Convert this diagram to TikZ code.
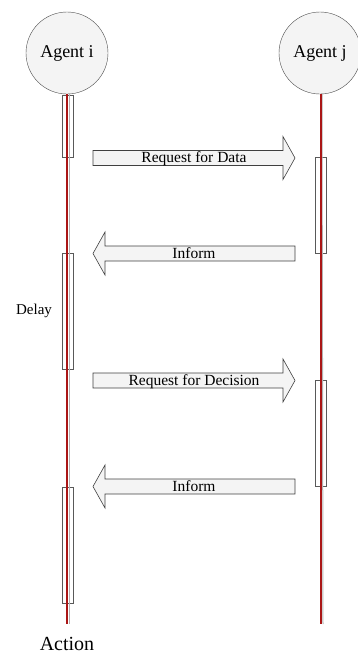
\documentclass[tikz,border=0pt]{standalone}
\usepackage{fontspec}
\setmainfont{Liberation Serif}
\usetikzlibrary{positioning}

\definecolor{lifered}{RGB}{170,22,22}
\definecolor{boxgray}{RGB}{244,244,244}

% block arrow between the lifelines, #1 = centre line of the arrow
\newcommand{\msgright}[1]{%
  \draw[message] (93,#1-7.5) -- (283,#1-7.5) -- (283,#1-21.5) -- (295,#1)
    -- (283,#1+21.5) -- (283,#1+7.5) -- (93,#1+7.5) -- cycle;}
\newcommand{\msgleft}[1]{%
  \draw[message] (295,#1-7.5) -- (105,#1-7.5) -- (105,#1-21.5) -- (93,#1)
    -- (105,#1+21.5) -- (105,#1+7.5) -- (295,#1+7.5) -- cycle;}

\begin{document}
\begin{tikzpicture}[
    x=1pt, y=-1pt,
    agent/.style={circle, draw=black!70, fill=boxgray, minimum size=82pt, inner sep=0pt,
                  font=\fontsize{18}{20}\selectfont},
    activation/.style={rectangle, draw=black!65, fill=white, minimum width=11pt, inner sep=0pt},
    lifeline/.style={draw=lifered, line width=2pt},
    shadowline/.style={draw=black!30, line width=1pt},
    message/.style={draw=black!75, fill=boxgray, line width=0.6pt},
    msglabel/.style={anchor=base, inner sep=0pt, font=\fontsize{15.5}{17}\selectfont},
    note/.style={inner sep=0pt}
]
    \useasboundingbox (0,0) rectangle (357,654);

    \node[agent] (agi) at (67,53) {Agent i};
    \node[agent] (agj) at (320,53) {Agent j};

    % activation boxes
    \node[activation, minimum height=62pt]  (acti1) at (67.5,126) {};
    \node[activation, minimum height=116pt] (acti2) at (67.5,311) {};
    \node[activation, minimum height=116pt] (acti3) at (67.5,545) {};
    \node[activation, minimum height=96pt]  (actj1) at (320.5,205) {};
    \node[activation, minimum height=106pt] (actj2) at (320.5,433) {};

    % lifelines
    \coordinate (endi) at (67,624);
    \coordinate (endj) at (321,624);
    \draw[shadowline] ([xshift=2pt]agi.south) -- ([xshift=2pt]endi);
    \draw[shadowline] ([xshift=2pt]agj.south) -- ([xshift=2pt]endj);
    \draw[lifeline] (agi.south) -- (endi);
    \draw[lifeline] ([xshift=1pt]agj.south) -- (endj);

    % messages
    \msgright{158}
    \msgleft{253.5}
    \msgright{380.5}
    \msgleft{486.5}
    \node[msglabel] (reqdata) at (194,162) {Request for Data};
    \node[msglabel] (inform1) at (194,258) {Inform};
    \node[msglabel] (reqdec) at (194,385) {Request for Decision};
    \node[msglabel] (inform2) at (194,491) {Inform};

    \node[note, font=\fontsize{15}{17}\selectfont] (delay) at (34,311) {Delay};
    \node[note, anchor=base, font=\fontsize{20}{22}\selectfont] (action) at (67,650) {Action};
\end{tikzpicture}
\end{document}
